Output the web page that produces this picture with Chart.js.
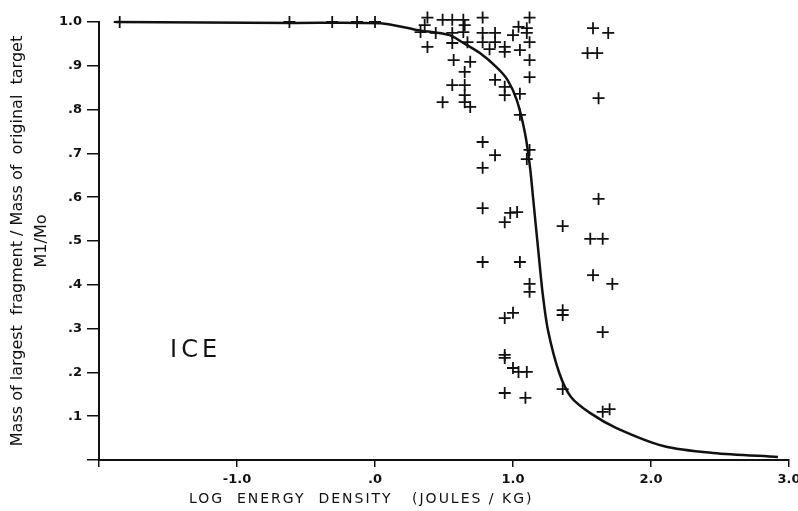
<!DOCTYPE html>
<html>
<head>
<meta charset="utf-8">
<script src="https://cdn.jsdelivr.net/npm/chart.js@4"></script>
<style>
  html, body { margin: 0; padding: 0; background: #fff; }
  #wrap { width: 798px; height: 511px; }
</style>
</head>
<body>
<div id="wrap"><canvas id="iceChart"></canvas></div>
<script>
// Measured fragments (log energy density, M1/Mo)
const energyX = [
    -1.85, -0.62, -0.31, -0.13, 0.0,
    0.38, 0.49, 0.56, 0.64, 0.78, 1.12, 0.36, 0.65, 1.04, 1.10, 1.58, 1.69,
    0.33, 0.44, 0.56, 0.64, 0.78, 0.87, 1.00, 1.10,
    0.38, 0.56, 0.67, 0.78, 0.87, 1.12, 0.94, 0.83, 1.05, 0.94, 1.54, 1.61,
    0.57, 1.12, 0.69, 0.65, 1.12, 0.87, 0.56, 0.65, 0.94, 0.65, 0.94, 1.05, 1.62,
    0.49, 0.65, 0.69, 1.05,
    0.78, 0.87, 0.78, 1.12, 1.10,
    1.62, 0.78, 0.98, 1.03, 0.94, 1.36, 1.56, 1.65,
    0.78, 1.05, 1.58, 1.72, 1.12, 1.12,
    1.36, 1.36, 1.00, 0.94, 1.65,
    0.94, 0.94, 1.00, 1.04, 1.10,
    0.94, 1.09, 1.36, 1.65, 1.70
];
const massRatio = [
    1.0, 1.0, 1.0, 1.0, 1.0,
    1.01, 1.005, 1.005, 1.005, 1.01, 1.01, 0.993, 0.993, 0.989, 0.986, 0.986, 0.975,
    0.977, 0.975, 0.975, 0.977, 0.975, 0.975, 0.970, 0.975,
    0.943, 0.952, 0.954, 0.954, 0.954, 0.954, 0.943, 0.938, 0.936, 0.932, 0.929, 0.929,
    0.913, 0.913, 0.909, 0.886, 0.874, 0.868, 0.856, 0.856, 0.852, 0.833, 0.833, 0.836, 0.826,
    0.817, 0.817, 0.806, 0.788,
    0.726, 0.696, 0.667, 0.708, 0.687,
    0.596, 0.575, 0.564, 0.566, 0.543, 0.534, 0.505, 0.505,
    0.452, 0.452, 0.422, 0.402, 0.402, 0.384,
    0.342, 0.331, 0.336, 0.324, 0.292,
    0.240, 0.233, 0.210, 0.201, 0.201,
    0.153, 0.142, 0.162, 0.110, 0.116
];

// Fitted curve
const curveX = [-1.88, -0.6, 0.04, 0.30, 0.54, 0.64, 0.76, 0.88, 0.96, 1.027, 1.087, 1.123, 1.147, 1.183, 1.215, 1.253, 1.336, 1.42, 1.56, 1.75, 2.09, 2.45, 2.92];
const curveY = [1.0, 0.998, 0.997, 0.982, 0.970, 0.952, 0.929, 0.897, 0.868, 0.822, 0.746, 0.669, 0.594, 0.479, 0.38, 0.297, 0.198, 0.144, 0.107, 0.073, 0.032, 0.016, 0.007];

const xTickLabels = { '-1': '-1.0', '0': '.0', '1': '1.0', '2': '2.0', '3': '3.0' };
const yTickLabels = ['', '.1', '.2', '.3', '.4', '.5', '.6', '.7', '.8', '.9', '1.0'];

const INK = '#111';

// extra text: x title (off-centre in the original) and the ICE tag
const notesPlugin = {
    id: 'notes',
    afterDraw(chart) {
        const { ctx, scales } = chart;
        ctx.save();
        ctx.fillStyle = INK;
        ctx.textBaseline = 'middle';
        ctx.textAlign = 'center';
        ctx.font = '24px "DejaVu Sans"';
        ctx.letterSpacing = '4px';
        ctx.fillText('ICE', scales.x.getPixelForValue(-1.3), scales.y.getPixelForValue(0.25));
        ctx.font = '14px "DejaVu Sans"';
        ctx.letterSpacing = '2px';
        ctx.fillText('LOG  ENERGY  DENSITY   (JOULES / KG)', scales.x.getPixelForValue(-0.1), 499);
        ctx.restore();
    }
};

const points = energyX.map((x, i) => ({ x: x, y: massRatio[i] }));
const curve = curveX.map((x, i) => ({ x: x, y: curveY[i] }));

new Chart(document.getElementById('iceChart'), {
    type: 'scatter',
    data: {
        datasets: [
            {
                label: 'fit',
                type: 'line',
                data: curve,
                borderColor: INK,
                borderWidth: 2.5,
                pointRadius: 0,
                tension: 0.3,
                fill: false,
                clip: false
            },
            {
                label: 'ice',
                data: points,
                pointStyle: 'cross',
                pointRadius: 6,
                borderColor: INK,
                borderWidth: 1.8,
                clip: false
            }
        ]
    },
    options: {
        responsive: true,
        maintainAspectRatio: false,
        animation: false,
        layout: { padding: { top: 22, right: 0, left: 0, bottom: 0 } },
        plugins: {
            legend: { display: false },
            tooltip: { enabled: false }
        },
        scales: {
            x: {
                type: 'linear',
                min: -2,
                max: 3,
                afterFit(scale) {
                    scale.height = 51;
                    scale.paddingRight = 9; // original lets "3.0" run off the edge
                    scale.paddingLeft = 0;
                },
                border: { color: INK, width: 2 },
                grid: { drawOnChartArea: false, color: INK, tickLength: 7, lineWidth: 1.5 },
                ticks: {
                    stepSize: 1,
                    color: INK,
                    padding: 5,
                    font: { family: 'DejaVu Sans', size: 13, weight: 'bold' },
                    callback: v => xTickLabels[String(v)] || ''
                }
            },
            y: {
                min: 0,
                max: 1.0,
                afterFit(scale) { scale.width = 99; },
                border: { color: INK, width: 2 },
                grid: { drawOnChartArea: false, color: INK, tickLength: 12, lineWidth: 1.5 },
                ticks: {
                    stepSize: 0.1,
                    color: INK,
                    padding: 5,
                    font: { family: 'DejaVu Sans', size: 13, weight: 'bold' },
                    callback: v => yTickLabels[Math.round(v * 10)]
                },
                title: {
                    display: true,
                    text: ['Mass of largest  fragment / Mass of  original  target', 'M1/Mo'],
                    color: INK,
                    font: { family: 'DejaVu Sans', size: 16, lineHeight: 1.5 },
                    padding: { top: 6, bottom: 0 }
                }
            }
        }
    },
    plugins: [notesPlugin]
});
</script>
</body>
</html>
